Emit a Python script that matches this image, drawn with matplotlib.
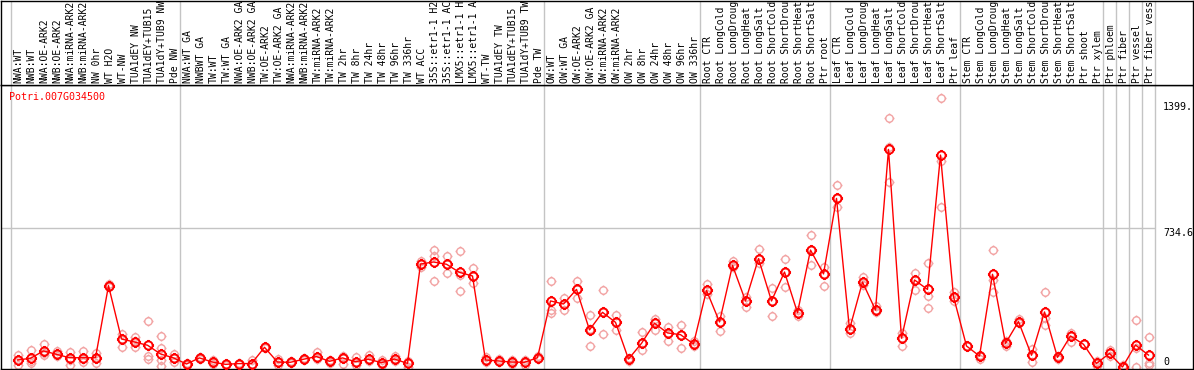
import numpy as np
import matplotlib.pyplot as plt
from matplotlib.path import Path
import matplotlib.transforms as mtransforms

# sample names, one per column
labels = [
    "NWA:WT", "NWB:WT", "NWA:OE-ARK2", "NWB:OE-ARK2", "NWA:miRNA-ARK2", "NWB:miRNA-ARK2",
    "NW 0hr", "WT H2O", "WT-NW", "TUA1dEY NW", "TUA1dEY+TUB15", "TUA1dY+TUB9 NW", "Pde NW",
    "NWA:WT GA", "NWBWT GA", "TW:WT", "TW:WT GA", "NWA:OE-ARK2 GA", "NWB:OE-ARK2 GA",
    "TW:OE-ARK2", "TW:OE-ARK2 GA", "NWA:miRNA-ARK2", "NWB:miRNA-ARK2", "TW:miRNA-ARK2",
    "TW:miRNA-ARK2", "TW 2hr", "TW 8hr", "TW 24hr", "TW 48hr", "TW 96hr", "TW 336hr",
    "WT ACC", "35S::etr1-1 H2O", "35S::etr1-1 ACC", "LMX5::etr1-1 H2O", "LMX5::etr1-1 ACC",
    "WT-TW", "TUA1dEY TW", "TUA1dEY+TUB15", "TUA1dY+TUB9 TW", "Pde TW",
    "OW:WT", "OW:WT GA", "OW:OE-ARK2", "OW:OE-ARK2 GA", "OW:miRNA-ARK2", "OW:miRNA-ARK2",
    "OW 2hr", "OW 8hr", "OW 24hr", "OW 48hr", "OW 96hr", "OW 336hr",
    "Root CTR", "Root LongCold", "Root LongDrought", "Root LongHeat", "Root LongSalt",
    "Root ShortCold", "Root ShortDrought", "Root ShortHeat", "Root ShortSalt", "Ptr root",
    "Leaf CTR", "Leaf LongCold", "Leaf LongDrought", "Leaf LongHeat", "Leaf LongSalt",
    "Leaf ShortCold", "Leaf ShortDrought", "Leaf ShortHeat", "Leaf ShortSalt", "Ptr leaf",
    "Stem CTR", "Stem LongCold", "Stem LongDrought", "Stem LongHeat", "Stem LongSalt",
    "Stem ShortCold", "Stem ShortDrought", "Stem ShortHeat", "Stem ShortSalt", "Ptr shoot",
    "Ptr xylem", "Ptr phloem", "Ptr fiber", "Ptr vessel", "Ptr fiber vessel",
]
groups = [13, 28, 12, 10, 10, 11, 1, 1, 1, 1]  # columns per block

# mean expression
means = [37, 46, 85, 67, 49, 49, 49, 430, 148, 132, 115, 69, 48,
         16, 48, 26, 14, 18, 18, 104, 26, 25, 41, 55, 30, 48, 28, 41, 23, 42, 19,
         544, 555, 543, 500, 481, 37, 32, 26, 25, 49,
         349, 333, 410, 196, 289, 236, 42, 125, 231, 180, 171, 122,
         405, 238, 537, 349, 573, 349, 502, 287, 618, 492,
         891, 199, 449, 301, 1150, 152, 460, 410, 1120, 372,
         111, 58, 490, 125, 240, 62, 291, 51, 164, 120, 19,
         72, 0, 116, 63]

# replicate values
reps = [
    [63, 11, 37], [90, 19, 30], [120, 63, 72], [86, 58, 67], [79, 11, 37], [86, 28, 40],
    [72, 23, 45], [440, 428, 425], [174, 107, 150], [157, 107, 135], [243, 58, 41],
    [164, 99, 37, 7], [69, 28, 45],
    [16, 12, 20], [48, 44, 52], [26, 35, 18], [14, 10, 18], [18, 14, 22], [37, 10, 18],
    [104, 100, 108], [40, 10, 26], [25, 20, 30], [41, 36, 46], [79, 40, 55], [38, 20, 30],
    [60, 16, 48], [55, 12, 28], [65, 30, 41], [35, 8, 23], [58, 30, 42], [2, 32, 19],
    [562, 530, 544], [618, 587, 456], [587, 498, 545], [615, 400, 486], [523, 442, 480],
    [55, 25, 37], [40, 25, 32], [35, 15, 26], [38, 12, 25], [60, 40, 49],
    [456, 301, 287], [365, 301, 333], [454, 366, 410], [275, 111, 200], [407, 174, 289],
    [275, 194, 236], [30, 42, 50], [185, 90, 125], [252, 196, 240], [210, 137, 180],
    [224, 100, 171], [135, 110, 122],
    [439, 386, 405], [271, 190, 238], [560, 530, 537], [372, 317, 349], [624, 548, 573],
    [416, 270, 349], [569, 424, 502], [300, 270, 287], [696, 537, 618], [527, 428, 492],
    [962, 847, 891], [234, 181, 199], [477, 433, 449], [320, 290, 301], [1314, 1164, 979],
    [178, 111, 152], [495, 407, 460], [551, 375, 310], [1420, 1090, 847], [398, 350, 372],
    [111], [65, 41, 58], [618, 460, 395], [135, 111, 125], [252, 230, 240], [94, 28, 62],
    [396, 222, 260], [58, 40, 51], [181, 134, 164], [120], [30, 5, 19],
    [90, 60, 72], [10, 0], [248, 0, 100], [157, 19, 13],
]

gene = "Potri.007G034500"
ytick_vals = [1399, 734.6, 0]
ytick_text = ["1399.", "734.6", "0"]

W, H = 1194, 370
fig = plt.figure(figsize=(W / 100, H / 100), dpi=100)
ax = fig.add_axes([1 / W, 1 / H, 1192 / W, 284 / H])
lab = fig.add_axes([1 / W, 285 / H, 1192 / W, 84 / H])

# pixel layout: column i centred at 17.5 + 13 i, value 0 at row 367, 734.6 at row 228
per_px = 734.6 / 139
xlim = ((1 - 17.5) / 13, (1193 - 17.5) / 13)
ax.set_xlim(xlim)
lab.set_xlim(xlim)
ax.set_ylim(-2 * per_px, (367 - 85) * per_px)
lab.set_ylim(0, 1)

for a in (ax, lab):
    a.set_xticks([])
    a.set_yticks([])
    for s in a.spines.values():
        s.set_color("black")
        s.set_linewidth(1.0)

# block separators
bounds = np.concatenate([[0], np.cumsum(groups)]) - 0.5
for b in bounds:
    ax.axvline(b, color="#c4c4c4", lw=1.0, zorder=0)
    lab.axvline(b, color="#c4c4c4", lw=1.0, zorder=0)
ax.hlines(ytick_vals[1], xlim[0], bounds[-1], color="#c4c4c4", lw=1.0, zorder=0)

# marker: open circle with four small ticks
tick = Path([(0, 1), (0, 1.35), (0, -1), (0, -1.35), (1, 0), (1.35, 0), (-1, 0), (-1.35, 0)],
            [Path.MOVETO, Path.LINETO] * 4)
mk = Path.make_compound_path(Path.unit_circle(), tick)

rx = [i for i, r in enumerate(reps) for _ in r]
ry = [v for r in reps for v in r]
ax.plot(rx, ry, ls="none", marker=mk, ms=7.2, mfc="none", mec="#f2a3a3", mew=1.0, zorder=2)
ax.plot(range(len(means)), means, color="red", lw=1.0, zorder=3)
ax.plot(range(len(means)), means, ls="none", marker=mk, ms=8.0, mfc="none",
        mec="red", mew=1.4, zorder=4)

# column names: the box shows only the first 14 characters
mono = "DejaVu Sans Mono"
trans = mtransforms.blended_transform_factory(lab.transData, lab.transAxes)
for i, name in enumerate(labels):
    lab.text(i + 0.1, 2 / 84, name[:14], rotation=90, ha="center", va="bottom",
             transform=trans, fontsize=7.0, family=mono, clip_on=False)

ax.text(8 / 1192, 1 - 7 / 284, gene, transform=ax.transAxes, ha="left", va="top",
        color="red", fontsize=7.2, family=mono)

for v, t in zip(ytick_vals, ytick_text):
    ax.text((1163 - 17.5) / 13, v, t, ha="left", va="bottom" if v == 0 else "top",
            fontsize=7.2, family=mono)

fig.savefig("out.png", dpi=100)
